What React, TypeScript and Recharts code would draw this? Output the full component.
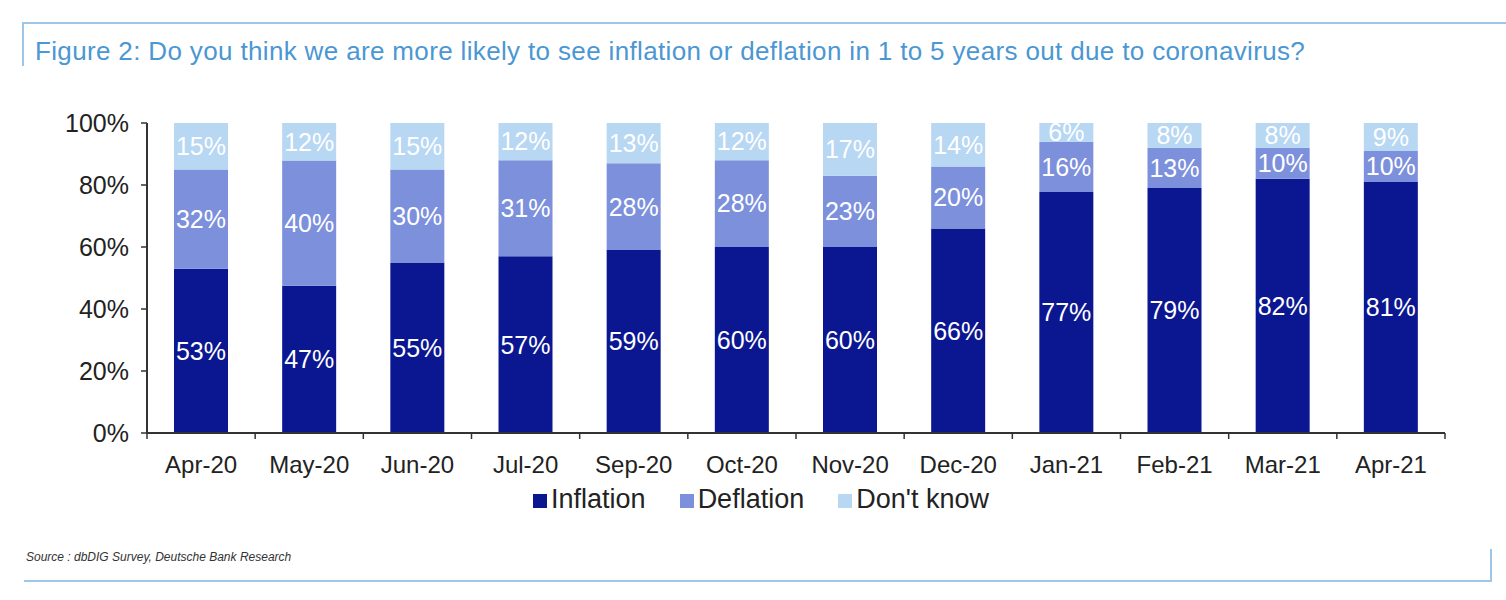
import React from 'react';
import { BarChart, Bar, XAxis, YAxis, Legend, LabelList } from 'recharts';

const months = ['Apr-20', 'May-20', 'Jun-20', 'Jul-20', 'Sep-20', 'Oct-20', 'Nov-20', 'Dec-20', 'Jan-21', 'Feb-21', 'Mar-21', 'Apr-21'];
const inflation = [53, 47, 55, 57, 59, 60, 60, 66, 77, 79, 82, 81];
const deflation = [32, 40, 30, 31, 28, 28, 23, 20, 16, 13, 10, 10];
const dontKnow = [15, 12, 15, 12, 13, 12, 17, 14, 6, 8, 8, 9];
const yTicks = [0, 0.2, 0.4, 0.6, 0.8, 1];
const seriesOrder = ['Inflation', 'Deflation', "Don't know"];

const data = months.map((m, i) => ({
  month: m,
  inflation: inflation[i],
  deflation: deflation[i],
  dontKnow: dontKnow[i],
}));

const W = 1506;
const H = 600;
const XH = 30;
const M = { top: 123, right: 61, bottom: 167 - XH, left: 87 };
const YW = 60;
const plotW = W - M.left - M.right - YW;
const halfBand = plotW / months.length / 2;

const FONT = '"Liberation Sans", Arial, Helvetica, sans-serif';
const TEXT = '#222';
const AXIS = '#333';
const BORDER = '#9cc6ea';

const XTick = (props: any) => {
  const { x, y, payload, index } = props;
  const last = index === months.length - 1;
  return (
    <g>
      <line x1={x - halfBand} x2={x - halfBand} y1={y} y2={y + 6} stroke={AXIS} strokeWidth={1.5} />
      {last && <line x1={x + halfBand} x2={x + halfBand} y1={y} y2={y + 6} stroke={AXIS} strokeWidth={1.5} />}
      <text x={x} y={y + 40} textAnchor="middle" fill={TEXT} fontSize={24} fontFamily={FONT}>
        {payload.value}
      </text>
    </g>
  );
};

const pct = (v: any) => `${v}%`;

export default function App() {
  return (
    <div style={{ position: 'absolute', left: 0, top: 0, width: W, height: H, background: '#fff', fontFamily: FONT }}>
      <div style={{ position: 'absolute', left: 22, top: 22, width: W - 22, height: 2, background: BORDER }} />
      <div style={{ position: 'absolute', left: 22, top: 22, width: 2, height: 44, background: BORDER }} />
      <div style={{ position: 'absolute', left: 35, top: 36, fontSize: 26, letterSpacing: 0.35, color: '#4b97d3', whiteSpace: 'nowrap' }}>
        Figure 2: Do you think we are more likely to see inflation or deflation in 1 to 5 years out due to coronavirus?
      </div>
      <div style={{ position: 'absolute', left: 0, top: 0 }}>
        <BarChart width={W} height={H} data={data} margin={M} stackOffset="expand">
          <XAxis
            dataKey="month"
            height={XH}
            tick={<XTick />}
            tickLine={false}
            tickSize={0}
            tickMargin={0}
            axisLine={{ stroke: AXIS, strokeWidth: 2 }}
            interval={0}
          />
          <YAxis
            width={YW}
            domain={[0, 1]}
            ticks={yTicks}
            tickFormatter={(v: number) => `${Math.round(v * 100)}%`}
            tick={{ fill: TEXT, fontSize: 25, fontFamily: FONT }}
            tickSize={6}
            tickMargin={12}
            tickLine={{ stroke: AXIS, strokeWidth: 1.5 }}
            axisLine={{ stroke: AXIS, strokeWidth: 2 }}
          />
          <Legend
            iconType="square"
            iconSize={14}
            layout="horizontal"
            verticalAlign="middle"
            align="center"
            itemSorter={(item: any) => seriesOrder.indexOf(item.value)}
            wrapperStyle={{ top: 484, left: 33, width: 1490, fontSize: 27, fontFamily: FONT }}
            formatter={(value: any) => <span style={{ color: TEXT, marginRight: 24 }}>{value}</span>}
          />
          <Bar dataKey="inflation" name="Inflation" stackId="a" fill="#0b1790" barSize={54} isAnimationActive={false}>
            <LabelList dataKey="inflation" position="center" fill="#fff" fontSize={25} fontFamily={FONT} formatter={pct} />
          </Bar>
          <Bar dataKey="deflation" name="Deflation" stackId="a" fill="#7c90dc" barSize={54} isAnimationActive={false}>
            <LabelList dataKey="deflation" position="center" fill="#fff" fontSize={25} fontFamily={FONT} formatter={pct} />
          </Bar>
          <Bar dataKey="dontKnow" name="Don't know" stackId="a" fill="#b7d7f3" barSize={54} isAnimationActive={false}>
            <LabelList dataKey="dontKnow" position="center" fill="#fff" fontSize={25} fontFamily={FONT} formatter={pct} />
          </Bar>
        </BarChart>
      </div>
      <div style={{ position: 'absolute', left: 26, top: 550, fontSize: 12, fontStyle: 'italic', color: '#333' }}>
        Source : dbDIG Survey, Deutsche Bank Research
      </div>
      <div style={{ position: 'absolute', left: 24, top: 580, width: 1468, height: 2, background: BORDER }} />
      <div style={{ position: 'absolute', left: 1490, top: 549, width: 2, height: 33, background: BORDER }} />
    </div>
  );
}
